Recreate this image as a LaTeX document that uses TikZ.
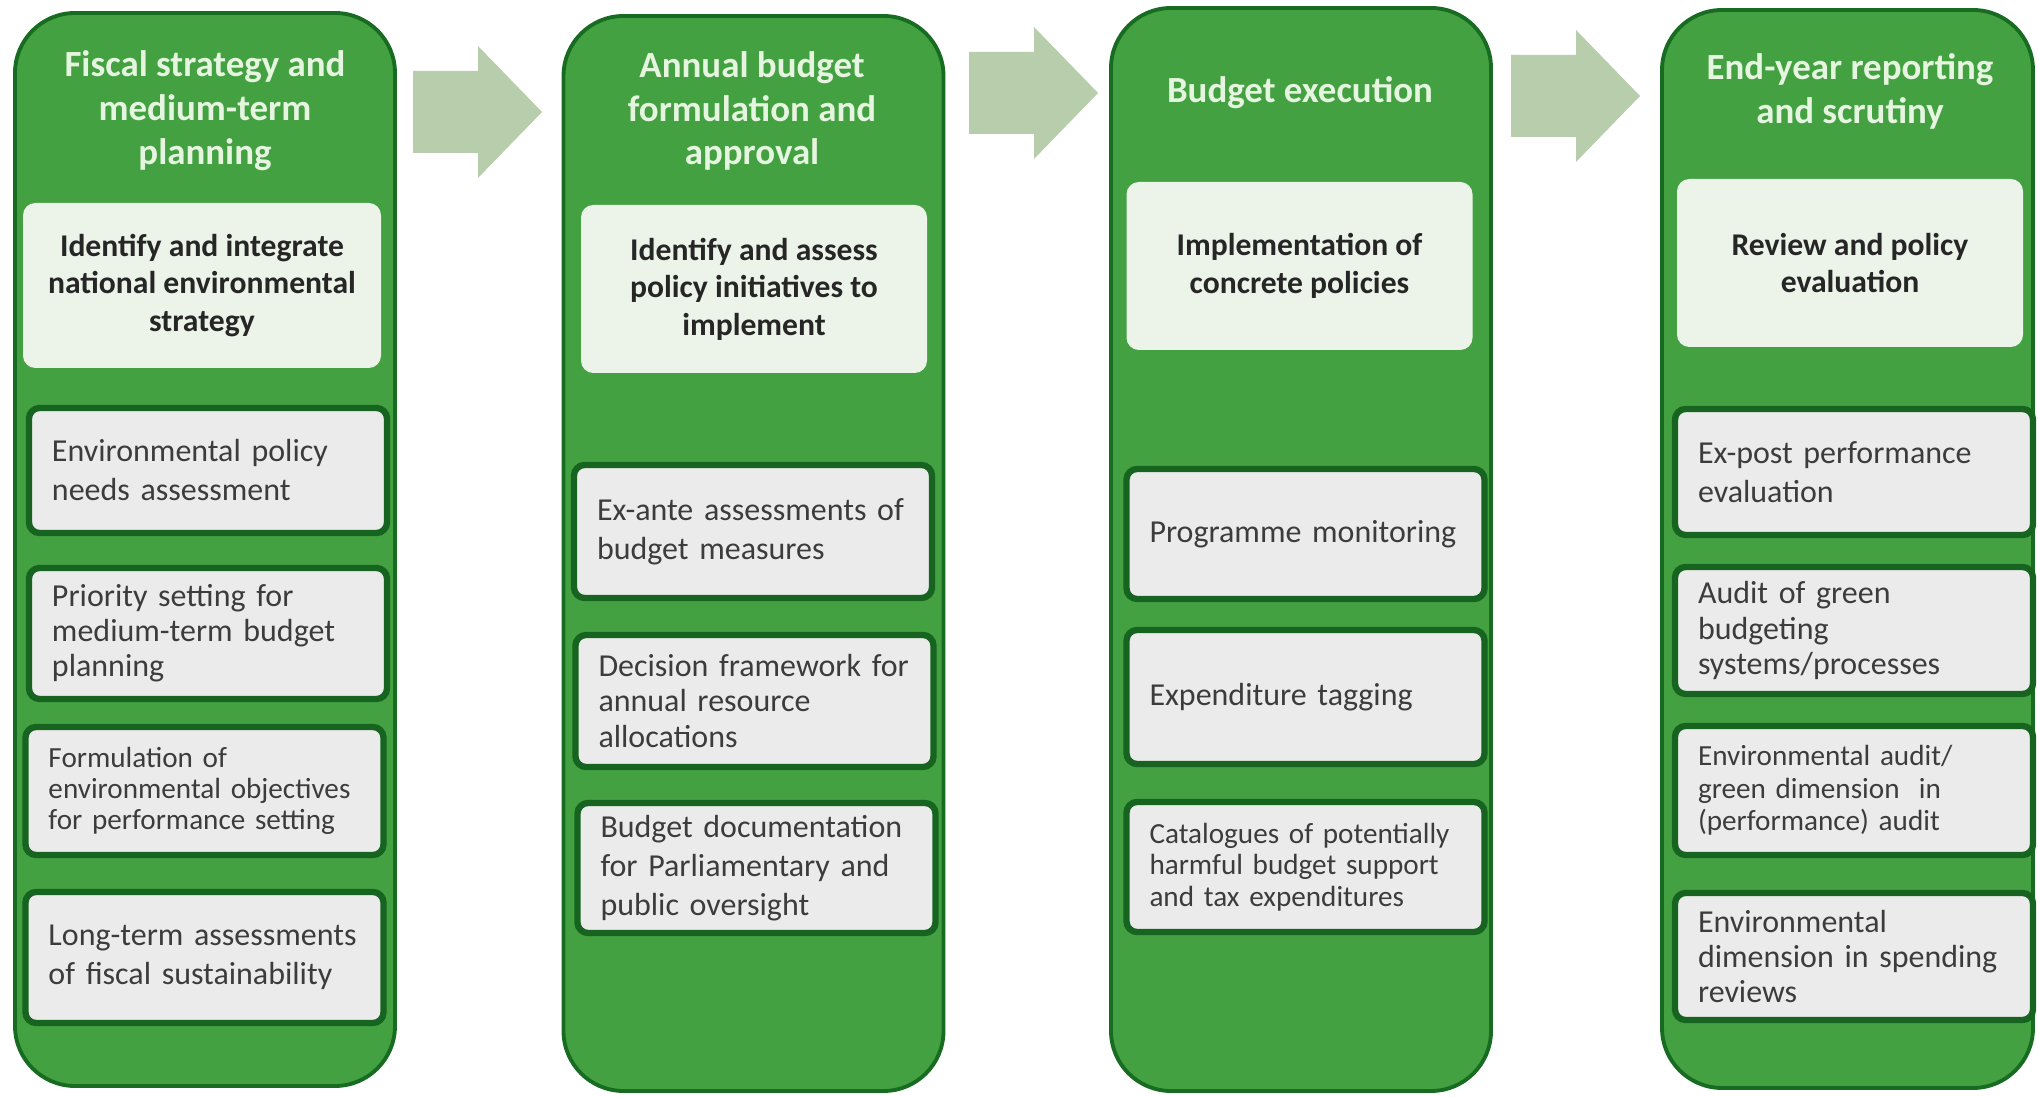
\documentclass[tikz,border=0pt]{standalone}
\usepackage{fontspec}
\setmainfont{Carlito}
\usepackage{tikz}
\usetikzlibrary{positioning}
\definecolor{stagegreen}{RGB}{67,161,66}
\definecolor{stageedge}{RGB}{24,108,34}
\definecolor{itemedge}{RGB}{22,100,32}
\definecolor{itemfill}{RGB}{235,235,235}
\definecolor{keyfill}{RGB}{236,244,233}
\definecolor{headtext}{RGB}{230,245,224}
\definecolor{itemtext}{RGB}{60,60,60}
\definecolor{flowfill}{RGB}{184,205,172}
\tikzset{
  stage/.style={ draw=stageedge, line width=1.1pt, fill=stagegreen, rounded corners=0.6cm, minimum width=3.8cm }
}
\tikzset{
  stagehead/.style={ text=headtext, align=center, font=\fontsize{10.5}{12.5}\selectfont\bfseries }
}
\tikzset{
  keybox/.style={ fill=keyfill, rounded corners=3.5pt, minimum width=3.46cm, minimum height=1.68cm, text=black!85, align=center, font=\fontsize{9}{10.7}\selectfont\bfseries }
}
\tikzset{
  itembox/.style={ draw=itemedge, line width=1.8pt, fill=itemfill, rounded corners=3pt, text width=3.12cm, inner xsep=0.23cm, minimum height=1.28cm, text=itemtext, align=left, font=\fontsize{9.1}{11.1}\selectfont }
}
\tikzset{
  tight/.style={ font=\fontsize{9.1}{10}\selectfont },
  small/.style={ font=\fontsize{8.3}{8.9}\selectfont }
}
\tikzset{
  flowarrow/.pic={ \fill[flowfill] (0,-0.41) -- (0.65,-0.41) -- (0.65,-0.66) -- (1.29,0) -- (0.65,0.66) -- (0.65,0.41) -- (0,0.41) -- cycle; }
}

\begin{document}
\begin{tikzpicture}
      \useasboundingbox[fill=white] (0,0) rectangle (20.38,10.97);

      % the four stages
      \node[stage, minimum height=10.73cm] (col1) at (2.05,5.475) {};
      \node[stage, minimum height=10.75cm] (col2) at (7.535,5.435) {};
      \node[stage, minimum height=10.83cm] (col3) at (13.01,5.475) {};
      \node[stage, minimum height=10.78cm, minimum width=3.71cm] (col4) at (18.475,5.48) {};

      \pic (arr1) at (4.13,9.85) {flowarrow};
      \pic (arr2) at (9.69,10.04) {flowarrow};
      \pic (arr3) at (15.11,10.01) {flowarrow};

      \node[stagehead] (head1) at (2.05,9.86) {Fiscal strategy and\\medium-term\\planning};
      \node[stagehead] (head2) at (7.52,9.86) {Annual budget\\formulation and\\approval};
      \node[stagehead] (head3) at (13.0,10.04) {Budget execution};
      \node[stagehead] (head4) at (18.5,10.055) {End-year reporting\\and scrutiny};

      \node[keybox, minimum width=3.58cm, minimum height=1.65cm] (key1) at (2.02,8.115) {Identify and integrate\\national environmental\\strategy};
      \node[keybox] (key2) at (7.54,8.08) {Identify and assess\\policy initiatives to\\implement};
      \node[keybox] (key3) at (12.995,8.31) {Implementation of\\concrete policies};
      \node[keybox] (key4) at (18.5,8.34) {Review and policy\\evaluation};

      % fiscal strategy
      \node[itembox, minimum height=1.25cm] (needs) at (2.08,6.265) {Environmental policy\\needs assessment};
      \node[itembox, tight, minimum height=1.31cm] (priority) at (2.08,4.635) {Priority setting for\\medium-term budget\\planning};
      \node[itembox, small] (objectives) at (2.045,3.06) {Formulation of\\environmental objectives\\for performance setting};
      \node[itembox, minimum height=1.31cm] (longterm) at (2.045,1.395) {Long-term assessments\\of fiscal sustainability};

      % annual budget
      \node[itembox, minimum height=1.33cm] (exante) at (7.53,5.655) {Ex-ante assessments of\\budget measures};
      \node[itembox, tight, minimum height=1.32cm] (decision) at (7.545,3.96) {Decision framework for\\annual resource\\allocations};
      \node[itembox, minimum height=1.30cm] (documentation) at (7.565,2.29) {Budget documentation\\for Parliamentary and\\public oversight};

      % execution
      \node[itembox, minimum height=1.30cm] (monitoring) at (13.055,5.63) {Programme monitoring};
      \node[itembox, minimum height=1.34cm] (tagging) at (13.055,4.0) {Expenditure tagging};
      \node[itembox, small, minimum height=1.30cm] (catalogues) at (13.055,2.30) {Catalogues of potentially\\harmful budget support\\and tax expenditures};

      % reporting
      \node[itembox, minimum height=1.26cm] (expost) at (18.54,6.25) {Ex-post performance\\evaluation};
      \node[itembox, tight, minimum height=1.27cm] (greenaudit) at (18.54,4.665) {Audit of green\\budgeting\\systems/processes};
      \node[itembox, font=\fontsize{8.3}{9.3}\selectfont, minimum height=1.29cm] (envaudit) at (18.54,3.065) {Environmental audit/\\green dimension~~in\\(performance) audit};
      \node[itembox, tight, minimum height=1.27cm] (reviews) at (18.54,1.405) {Environmental\\dimension in spending\\reviews};
    \end{tikzpicture}
\end{document}
